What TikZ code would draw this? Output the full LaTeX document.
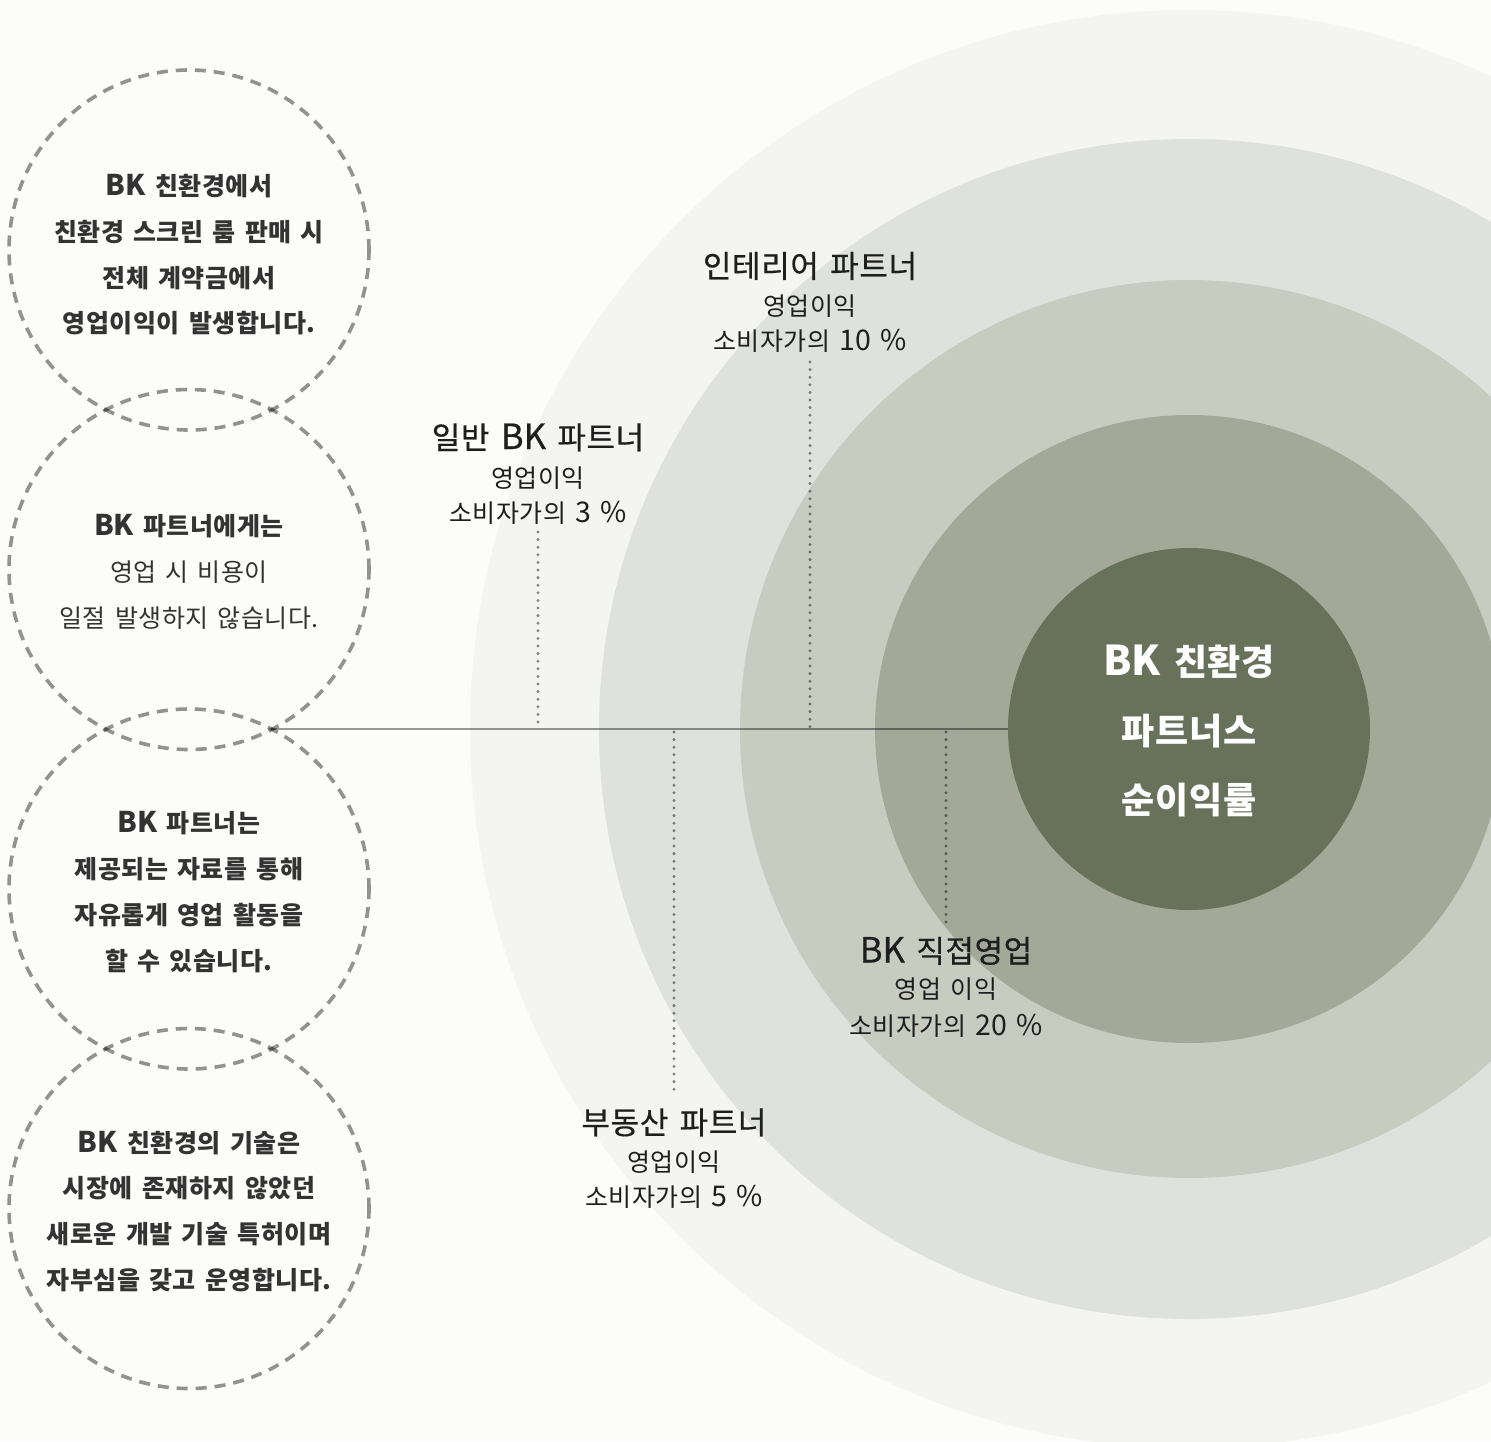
\documentclass[tikz,border=0pt]{standalone}
\usepackage{fontspec}
\setmainfont{Noto Sans CJK KR}[WordSpace=1.5,LetterSpace=2]
\newfontfamily\latf{Noto Sans CJK KR}[Scale=1.14,WordSpace=1.5]
\newfontfamily\headf{Noto Sans CJK KR}[FakeBold=0.5,WordSpace=1.5,LetterSpace=2]
\newfontfamily\headlatf{Noto Sans CJK KR}[FakeBold=0.5,Scale=1.12,WordSpace=1.5]
\newcommand\latn[1]{{\latf #1}}
\newcommand\hlatn[1]{{\headlatf #1}}
\definecolor{bgc}{HTML}{FCFCFA}
\definecolor{ringA}{HTML}{F4F4F2}
\definecolor{ringB}{HTML}{DFE1DC}
\definecolor{ringC}{HTML}{C8CBC0}
\definecolor{ringD}{HTML}{A4A898}
\definecolor{coreC}{HTML}{68715A}
\definecolor{txt}{HTML}{333333}
\definecolor{txth}{HTML}{1E1E1E}
\begin{document}
\begin{tikzpicture}[x=1pt,y=-1pt,
  dcirc/.style={circle,draw=black,draw opacity=0.42,line width=3.6pt,dash pattern=on 11pt off 8pt,minimum size=360pt,inner sep=0pt},
  dotl/.style={draw=black,draw opacity=0.45,line width=3.3pt,line cap=round,dash pattern=on 0pt off 7.6pt},
  hline/.style={draw=black,draw opacity=0.4,line width=2.8pt},
  ctext/.style={font=\fontsize{25}{30}\selectfont\bfseries,text=txt,anchor=base,inner sep=0pt},
  ctextr/.style={font=\fontsize{25}{30}\selectfont,text=txt,anchor=base,inner sep=0pt},
  head/.style={font=\headf\fontsize{31}{36}\selectfont,text=txth,anchor=base,inner sep=0pt},
  sub/.style={font=\fontsize{25}{29}\selectfont,text=txth,anchor=base,inner sep=0pt},
  coretext/.style={font=\fontsize{36}{40}\selectfont\bfseries,text=white,anchor=base,inner sep=0pt}]
\clip (0,0) rectangle (1491,1441);
\fill[bgc] (0,0) rectangle (1491,1441);
% rings
\fill[ringA] (1189,729) circle[radius=719];
\fill[ringB] (1189,729) circle[radius=590];
\fill[ringC] (1189,729) circle[radius=449];
\fill[ringD] (1189,729) circle[radius=314];
\node[circle,fill=coreC,minimum size=362pt,inner sep=0pt] (core) at (1189,729) {};
% dashed circles
\node[dcirc] (d1) at (189,250) {};
\node[dcirc] (d2) at (189,569.5) {};
\node[dcirc] (d3) at (189,889) {};
\node[dcirc] (d4) at (189,1208.5) {};
% connectors
\coordinate (hx) at (271,729);
\draw[hline] (hx) -- (core.west);
\coordinate (v1t) at (538,532); \coordinate (v1b) at (538,727);
\coordinate (v2t) at (810,362); \coordinate (v2b) at (810,727);
\coordinate (v3t) at (674,732); \coordinate (v3b) at (674,1094);
\coordinate (v4t) at (946,732); \coordinate (v4b) at (946,928);
\draw[dotl] (v1t) -- (v1b);
\draw[dotl] (v2t) -- (v2b);
\draw[dotl] (v3t) -- (v3b);
\draw[dotl] (v4t) -- (v4b);
% center text
\node[coretext] (k1) at (1189,675) {\latn{BK} 친환경};
\node[coretext] (k2) at (1189,744) {파트너스};
\node[coretext] (k3) at (1189,813) {순이익률};
% labels
\node[head] (h1) at (810,277.5) {인테리어 파트너};
\node[sub] (h1a) at (810,315) {영업이익};
\node[sub] (h1b) at (810,350) {소비자가의 \latn{10 \%}};
\node[head] (h2) at (538,449) {일반 \hlatn{BK} 파트너};
\node[sub] (h2a) at (538,487) {영업이익};
\node[sub] (h2b) at (538,522) {소비자가의 \latn{3 \%}};
\node[head] (h3) at (946,962.5) {\hlatn{BK} 직접영업};
\node[sub] (h3a) at (946,998) {영업 이익};
\node[sub] (h3b) at (946,1035) {소비자가의 \latn{20 \%}};
\node[head] (h4) at (674,1134) {부동산 파트너};
\node[sub] (h4a) at (674,1171) {영업이익};
\node[sub] (h4b) at (674,1206.5) {소비자가의 \latn{5 \%}};
% left circle texts
\node[ctext] (a1) at (189,195.5) {\latn{BK} 친환경에서};
\node[ctext] (a2) at (189,241.5) {친환경 스크린 룸 판매 시};
\node[ctext] (a3) at (189,287) {전체 계약금에서};
\node[ctext] (a4) at (189,332) {영업이익이 발생합니다.};
\node[ctext] (b1) at (189,535.5) {\latn{BK} 파트너에게는};
\node[ctextr] (b2) at (189,581.5) {영업 시 비용이};
\node[ctextr] (b3) at (189,627) {일절 발생하지 않습니다.};
\node[ctext] (c1) at (189,832.5) {\latn{BK} 파트너는};
\node[ctext] (c2) at (189,878) {제공되는 자료를 통해};
\node[ctext] (c3) at (189,924) {자유롭게 영업 활동을};
\node[ctext] (c4) at (189,970) {할 수 있습니다.};
\node[ctext] (e1) at (189,1152) {\latn{BK} 친환경의 기술은};
\node[ctext] (e2) at (189,1197.5) {시장에 존재하지 않았던};
\node[ctext] (e3) at (189,1243.5) {새로운 개발 기술 특허이며};
\node[ctext] (e4) at (189,1289.5) {자부심을 갖고 운영합니다.};
\end{tikzpicture}
\end{document}
